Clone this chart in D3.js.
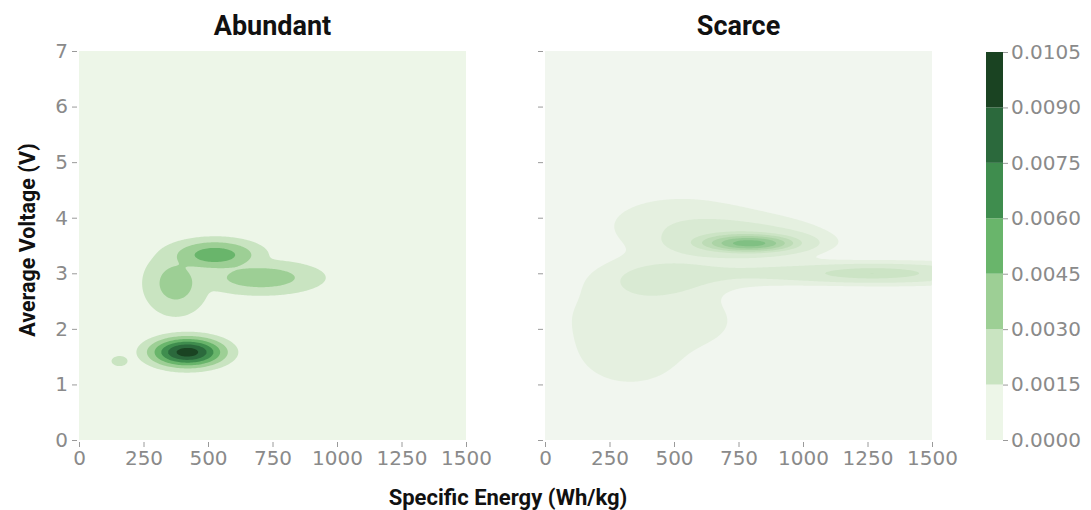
<!DOCTYPE html>
<html>
<head>
<meta charset="utf-8">
<script src="https://cdn.jsdelivr.net/npm/d3@7"></script>
<style>
  body { margin: 0; background: #fff; }
  .tick text { font-family: "DejaVu Sans", sans-serif; font-size: 20px; fill: #8a8a8a; }
  .tick line { stroke: #9a9a9a; }
  .title { font-family: Roboto, sans-serif; font-weight: 700; fill: #111; }
</style>
</head>
<body>
<div id="chart"></div>
<script>
var width = 1091, height = 510;

// density bumps: [energy, voltage, spread energy, spread voltage, height]
var abundantPeaks = [
  [420, 1.58, 102, 0.19, 0.0098],
  [157, 1.42, 41, 0.12, 0.0020],
  [527, 3.33, 130, 0.21, 0.0054],
  [375, 2.82, 97, 0.45, 0.0037],
  [705, 2.92, 182, 0.235, 0.0039]
];
var scarcePeaks = [
  [800, 3.53, 140, 0.12, 0.0060],
  [790, 3.66, 240, 0.26, 0.0019],
  [445, 2.92, 170, 0.26, 0.0019],
  [900, 2.99, 230, 0.16, 0.0019],
  [1250, 3.00, 170, 0.12, 0.0030],
  [1520, 3.00, 220, 0.16, 0.0021],
  [330, 1.55, 190, 0.55, 0.0015],
  [330, 2.40, 260, 0.45, 0.0010],
  [640, 2.10, 110, 0.35, 0.0007],
  [520, 3.95, 260, 0.45, 0.0014]
];
// how bumps merge: 1 = plain sum, higher keeps neighbouring bumps apart
var abundantBlend = 4, scarceBlend = 1;

var abundantLevels = [0.0015, 0.0030, 0.0045, 0.0060, 0.0075, 0.0090];
var abundantColors = ["#edf6e8", "#c9e4c1", "#9dcf95", "#69b56b", "#3f8d4e", "#2b693c", "#1a4322"];
var scarceLevels = [0.001, 0.002, 0.0036, 0.0046, 0.0056, 0.0066, 0.0076];
var scarceColors = ["#f1f6ef", "#e5f0e0", "#d9ead3", "#cce4c5", "#bddcb6", "#acd4a6", "#97ca95", "#80c083"];

var energyTicks = [0, 250, 500, 750, 1000, 1250, 1500];
var voltTicks = [0, 1, 2, 3, 4, 5, 6, 7];
var barTicks = [0, 0.0015, 0.0030, 0.0045, 0.0060, 0.0075, 0.0090, 0.0105];

var svg = d3.select('#chart').append('svg')
  .attr('width', width)
  .attr('height', height);

var panels = [
  {name: 'Abundant', left: 79, peaks: abundantPeaks, blend: abundantBlend, levels: abundantLevels, colors: abundantColors, labels: true},
  {name: 'Scarce', left: 545, peaks: scarcePeaks, blend: scarceBlend, levels: scarceLevels, colors: scarceColors, labels: false}
];
var plotTop = 51, plotW = 387, plotH = 389;

function density(peaks, blend, e, v) {
  var s = 0;
  peaks.forEach(function(p) {
    var dx = (e - p[0]) / p[2], dy = (v - p[1]) / p[3];
    s += Math.pow(p[4] * Math.exp(-0.5 * (dx * dx + dy * dy)), blend);
  });
  return Math.pow(s, 1 / blend);
}

panels.forEach(function(p, k) {
  var x = d3.scaleLinear().domain([0, 1500]).range([p.left, p.left + plotW]);
  var y = d3.scaleLinear().domain([0, 7]).range([plotTop + plotH, plotTop]);

  var clipId = 'clip' + k;
  svg.append('clipPath').attr('id', clipId)
    .append('rect').attr('x', p.left).attr('y', plotTop).attr('width', plotW).attr('height', plotH);

  var g = svg.append('g').attr('clip-path', 'url(#' + clipId + ')');
  g.append('rect')
    .attr('x', p.left).attr('y', plotTop).attr('width', plotW).attr('height', plotH)
    .attr('fill', p.colors[0]);

  var step = 1.5;
  var nx = Math.ceil(plotW / step), ny = Math.ceil(plotH / step);
  var values = new Array(nx * ny);
  for (var j = 0; j < ny; j++) {
    for (var i = 0; i < nx; i++) {
      values[j * nx + i] = density(p.peaks, p.blend,
        x.invert(p.left + (i + 0.5) * step),
        y.invert(plotTop + (j + 0.5) * step));
    }
  }
  var contours = d3.contours().size([nx, ny]).thresholds(p.levels)(values);
  var path = d3.geoPath(d3.geoIdentity().scale(step).translate([p.left, plotTop]));

  g.selectAll('path')
    .data(contours)
    .enter().append('path')
    .attr('d', path)
    .attr('fill', function(d, i) { return p.colors[i + 1]; });

  var xAxis = svg.append('g')
    .attr('transform', 'translate(0,' + (plotTop + plotH + 2) + ')')
    .call(d3.axisBottom(x).tickValues(energyTicks).tickSize(5).tickPadding(4).tickFormat(d3.format('d')));
  xAxis.select('.domain').remove();

  var yAxis = svg.append('g')
    .attr('transform', 'translate(' + (p.left - 2) + ',0)')
    .call(d3.axisLeft(y).tickValues(voltTicks).tickSize(5).tickPadding(4)
      .tickFormat(p.labels ? d3.format('d') : ''));
  yAxis.select('.domain').remove();

  svg.append('text').attr('class', 'title')
    .attr('x', p.left + plotW / 2).attr('y', 35)
    .attr('text-anchor', 'middle')
    .style('font-size', '27px')
    .text(p.name);
});

// colorbar
var barX = 986, barW = 17;
var cy = d3.scaleLinear().domain([0, 0.0105]).range([440, 52]);
svg.selectAll('.band')
  .data(abundantColors)
  .enter().append('rect')
  .attr('x', barX)
  .attr('width', barW)
  .attr('y', function(d, i) { return cy(barTicks[i + 1]); })
  .attr('height', function(d, i) { return cy(barTicks[i]) - cy(barTicks[i + 1]); })
  .attr('fill', function(d) { return d; });

var cAxis = svg.append('g')
  .attr('transform', 'translate(' + (barX + barW) + ',0)')
  .call(d3.axisRight(cy).tickValues(barTicks).tickSize(5).tickPadding(3).tickFormat(d3.format('.4f')));
cAxis.select('.domain').remove();

svg.append('text').attr('class', 'title')
  .attr('x', 508).attr('y', 505)
  .attr('text-anchor', 'middle')
  .style('font-size', '22px')
  .text('Specific Energy (Wh/kg)');

svg.append('text').attr('class', 'title')
  .attr('transform', 'translate(35,240) rotate(-90)')
  .attr('text-anchor', 'middle')
  .style('font-size', '21.5px')
  .text('Average Voltage (V)');
</script>
</body>
</html>
